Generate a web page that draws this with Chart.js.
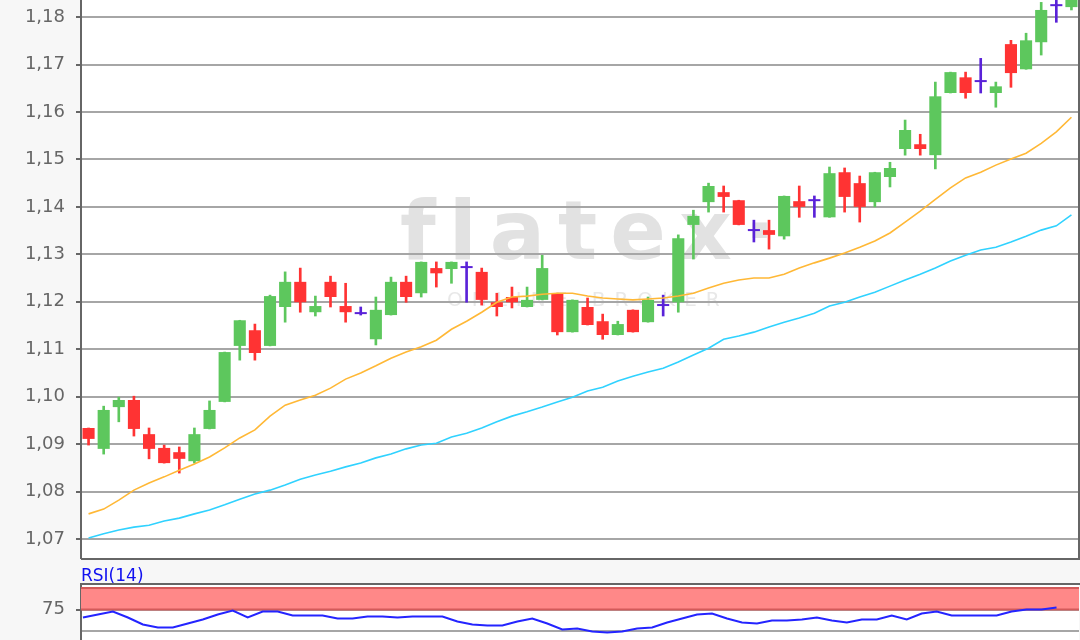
<!DOCTYPE html>
<html>
<head>
<meta charset="utf-8">
<script src="https://cdn.jsdelivr.net/npm/chart.js@4.4.1/dist/chart.umd.min.js"></script>
<style>
  html, body { margin: 0; padding: 0; background: #f7f7f7; }
  #main { position: absolute; left: 0; top: 0; width: 1080px; height: 560px; }
  #rsiBox { position: absolute; left: 0; top: 560px; width: 1080px; height: 80px; overflow: hidden; }
</style>
</head>
<body>
<div id="main"><canvas id="kurs" width="1080" height="560"></canvas></div>
<div id="rsiBox"><canvas id="rsi" width="1080" height="116"></canvas></div>
<script>
// Tageskerzen (Eröffnung, Hoch, Tief, Schluss)
const open  = [1.0934,1.0890,1.0978,1.0993,1.0921,1.0892,1.0883,1.0864,1.0932,1.0989,
               1.1107,1.1140,1.1107,1.1189,1.1242,1.1178,1.1242,1.1191,1.1174,1.1121,
               1.1172,1.1242,1.1218,1.1271,1.1269,1.1271,1.1263,1.1199,1.1210,1.1189,
               1.1204,1.1218,1.1136,1.1189,1.1159,1.1130,1.1183,1.1157,1.1191,1.1199,
               1.1362,1.1410,1.1431,1.1414,1.1349,1.1351,1.1338,1.1412,1.1412,1.1378,
               1.1473,1.1450,1.1410,1.1463,1.1522,1.1532,1.1509,1.1640,1.1673,1.1663,
               1.1640,1.1743,1.1690,1.1747,1.1823,1.1821];
const high  = [1.0934,1.0980,1.0999,1.1001,1.0934,1.0898,1.0894,1.0934,1.0991,1.1094,
               1.1161,1.1153,1.1214,1.1263,1.1271,1.1212,1.1254,1.1239,1.1189,1.1210,
               1.1252,1.1254,1.1284,1.1284,1.1284,1.1284,1.1271,1.1218,1.1231,1.1231,
               1.1298,1.1218,1.1204,1.1208,1.1174,1.1159,1.1183,1.1210,1.1214,1.1341,
               1.1393,1.1450,1.1444,1.1414,1.1372,1.1372,1.1423,1.1444,1.1423,1.1484,
               1.1482,1.1465,1.1473,1.1494,1.1583,1.1553,1.1663,1.1684,1.1684,1.1713,
               1.1663,1.1751,1.1766,1.1831,1.1845,1.1870];
const low   = [1.0898,1.0879,1.0947,1.0917,1.0869,1.0860,1.0839,1.0860,1.0932,1.0989,
               1.1077,1.1077,1.1107,1.1157,1.1178,1.1170,1.1189,1.1157,1.1172,1.1109,
               1.1172,1.1199,1.1210,1.1231,1.1239,1.1199,1.1193,1.1170,1.1187,1.1189,
               1.1204,1.1130,1.1136,1.1151,1.1121,1.1130,1.1136,1.1157,1.1170,1.1178,
               1.1290,1.1389,1.1389,1.1362,1.1326,1.1311,1.1332,1.1378,1.1378,1.1378,
               1.1389,1.1368,1.1400,1.1442,1.1509,1.1509,1.1480,1.1640,1.1629,1.1640,
               1.1610,1.1652,1.1690,1.1720,1.1789,1.1815];
const close = [1.0911,1.0972,1.0993,1.0932,1.0890,1.0860,1.0869,1.0921,1.0972,1.1094,
               1.1161,1.1092,1.1212,1.1242,1.1199,1.1191,1.1210,1.1178,1.1174,1.1183,
               1.1242,1.1210,1.1284,1.1260,1.1284,1.1271,1.1204,1.1189,1.1199,1.1204,
               1.1271,1.1136,1.1204,1.1151,1.1130,1.1153,1.1136,1.1204,1.1191,1.1334,
               1.1381,1.1444,1.1421,1.1362,1.1349,1.1341,1.1423,1.1400,1.1412,1.1471,
               1.1421,1.1400,1.1473,1.1482,1.1562,1.1522,1.1633,1.1684,1.1640,1.1663,
               1.1654,1.1682,1.1751,1.1815,1.1823,1.1860];

// gleitende Durchschnitte
const maKurz = [1.0753,1.0763,1.0782,1.0803,1.0818,1.0831,1.0845,1.0858,1.0873,1.0892,
                1.0913,1.0930,1.0959,1.0982,1.0993,1.1003,1.1018,1.1037,1.1050,1.1065,
                1.1081,1.1094,1.1105,1.1119,1.1142,1.1159,1.1178,1.1199,1.1210,1.1212,
                1.1216,1.1218,1.1218,1.1212,1.1208,1.1206,1.1204,1.1206,1.1208,1.1212,
                1.1218,1.1229,1.1239,1.1246,1.1250,1.1250,1.1258,1.1271,1.1282,1.1292,
                1.1303,1.1315,1.1328,1.1345,1.1368,1.1391,1.1416,1.1440,1.1461,1.1473,
                1.1488,1.1501,1.1513,1.1534,1.1558,1.1589];
const maLang = [1.0702,1.0711,1.0719,1.0725,1.0729,1.0738,1.0744,1.0753,1.0761,1.0772,
                1.0784,1.0795,1.0803,1.0814,1.0826,1.0835,1.0843,1.0852,1.0860,1.0871,
                1.0879,1.0890,1.0898,1.0902,1.0915,1.0923,1.0934,1.0947,1.0959,1.0968,
                1.0978,1.0989,1.0999,1.1012,1.1020,1.1033,1.1043,1.1052,1.1060,1.1073,
                1.1088,1.1102,1.1121,1.1128,1.1136,1.1147,1.1157,1.1166,1.1176,1.1191,
                1.1199,1.1210,1.1220,1.1233,1.1246,1.1258,1.1271,1.1286,1.1298,1.1309,
                1.1315,1.1326,1.1338,1.1351,1.1360,1.1383];

const rsiWerte = [65.7,69.2,72.7,65.7,57.6,54.1,54.1,58.7,63.4,69.2,
                  73.8,65.7,72.7,72.7,68.0,68.0,68.0,64.5,64.5,66.9,
                  66.9,65.7,66.9,66.9,66.9,61.0,57.6,56.4,56.4,61.0,
                  64.5,58.7,51.7,52.9,49.4,48.3,49.4,52.9,54.1,59.9,
                  64.5,69.2,70.3,64.5,59.9,58.7,62.2,62.2,63.4,65.7,
                  62.2,59.9,63.4,63.4,68.0,63.4,70.3,72.7,68.0,68.0,
                  68.0,68.0,72.7,75.0,75.0,77.3];

const kursTicks = [1.07,1.08,1.09,1.10,1.11,1.12,1.13,1.14,1.15,1.16,1.17,1.18];
const rsiTicks = [50, 75];
const rsiZone = [75, 100];

const labels = open.map((_, i) => String(i + 1));

const getCandleColor = (o, c) => {
    if (c > o) return '#5dc75d';
    if (c < o) return '#ff3333';
    return '#5a22d8';
};
const candleColors = open.map((o, i) => getCandleColor(o, close[i]));

const schrift = '"DejaVu Sans", Verdana, sans-serif';

const hintergrund = {
    id: 'hintergrund',
    beforeDraw(chart) {
        const { ctx, chartArea: a } = chart;
        ctx.save();
        ctx.fillStyle = '#f7f7f7';
        ctx.fillRect(0, 0, chart.width, chart.height);
        ctx.fillStyle = '#ffffff';
        ctx.fillRect(a.left, a.top, a.right - a.left, a.bottom - a.top);
        if (chart.canvas.id === 'kurs') {
            // Wasserzeichen
            ctx.fillStyle = '#e2e2e2';
            ctx.font = 'bold 82px ' + schrift;
            ctx.letterSpacing = '13px';
            ctx.fillText('flatex', 400, 259);
            ctx.fillText('·', 744, 259);
            ctx.fillStyle = '#e8e8e8';
            ctx.font = '20px ' + schrift;
            ctx.letterSpacing = '9px';
            ctx.fillText('ONLINE BROKER', 447, 306);
        }
        ctx.restore();
    }
};

const rahmen = {
    id: 'rahmen',
    afterDraw(chart) {
        const { ctx, chartArea: a } = chart;
        ctx.save();
        ctx.strokeStyle = '#666666';
        ctx.lineWidth = 2;
        ctx.beginPath();
        if (chart.canvas.id === 'kurs') {
            ctx.moveTo(a.left, a.bottom + 1);
            ctx.lineTo(a.right, a.bottom + 1);
            ctx.lineTo(a.right, a.top);
        } else {
            ctx.moveTo(a.left - 1, a.top - 1);
            ctx.lineTo(chart.width, a.top - 1);
        }
        ctx.stroke();
        if (chart.canvas.id === 'rsi') {
            ctx.fillStyle = '#1010f0';
            ctx.font = '17px ' + schrift;
            ctx.fillText('RSI(14)', 81, 21);
        }
        ctx.restore();
    }
};

const zone = {
    id: 'zone',
    beforeDatasetsDraw(chart) {
        const { ctx, chartArea: a } = chart;
        const y = chart.scales.y;
        const y1 = y.getPixelForValue(rsiZone[1]);
        const y0 = y.getPixelForValue(rsiZone[0]);
        ctx.save();
        ctx.fillStyle = '#ff8888';
        ctx.fillRect(a.left, y1, a.right - a.left, y0 - y1);
        ctx.strokeStyle = '#d35a5a';
        ctx.lineWidth = 2;
        ctx.beginPath();
        ctx.moveTo(a.left, y1); ctx.lineTo(a.right, y1);
        ctx.moveTo(a.left, y0); ctx.lineTo(a.right, y0);
        ctx.stroke();
        ctx.restore();
    }
};

const festeBreite = scale => {
    scale.width = 81;
    scale.paddingTop = 0;
    scale.paddingBottom = 0;
};

new Chart(document.getElementById('kurs'), {
    type: 'bar',
    data: {
        labels: labels,
        datasets: [
            { type: 'line', data: maKurz, borderColor: '#ffb836', borderWidth: 1.6, pointRadius: 0, tension: 0 },
            { type: 'line', data: maLang, borderColor: '#30d2ff', borderWidth: 1.6, pointRadius: 0, tension: 0 },
            {
                data: open.map((o, i) => [o, close[i]]),
                backgroundColor: candleColors,
                barPercentage: 0.8,
                categoryPercentage: 1,
                minBarLength: 2,
                grouped: false
            },
            {
                data: low.map((l, i) => [l, high[i]]),
                backgroundColor: candleColors,
                barThickness: 2,
                grouped: false
            }
        ]
    },
    options: {
        responsive: false,
        devicePixelRatio: 1,
        animation: false,
        layout: { padding: { top: 0, right: 1, bottom: 2, left: 0 } },
        plugins: { legend: { display: false }, tooltip: { enabled: false } },
        scales: {
            x: { display: false, offset: true },
            y: {
                min: 1.066,
                max: 1.1836,
                afterBuildTicks: scale => { scale.ticks = kursTicks.map(v => ({ value: v })); },
                afterFit: festeBreite,
                ticks: {
                    color: '#666666',
                    font: { family: schrift, size: 18 },
                    padding: 11,
                    callback: v => v.toFixed(2).replace('.', ',')
                },
                grid: { color: '#a6a6a6', lineWidth: 2, tickLength: 5, tickColor: '#666666' },
                border: { color: '#666666', width: 2 }
            }
        }
    },
    plugins: [hintergrund, rahmen]
});

new Chart(document.getElementById('rsi'), {
    type: 'line',
    data: {
        datasets: [{
            data: rsiWerte.map((v, i) => ({ x: i, y: v })),
            borderColor: '#2424ff',
            borderWidth: 2,
            pointRadius: 0,
            tension: 0
        }]
    },
    options: {
        responsive: false,
        devicePixelRatio: 1,
        animation: false,
        layout: { padding: { top: 25, right: 1, bottom: 2, left: 0 } },
        plugins: { legend: { display: false }, tooltip: { enabled: false } },
        scales: {
            x: { type: 'linear', display: false, min: -0.13, max: 66.5 },
            y: {
                min: 0,
                max: 103.5,
                afterBuildTicks: scale => { scale.ticks = rsiTicks.map(v => ({ value: v })); },
                afterFit: festeBreite,
                ticks: {
                    color: '#666666',
                    font: { family: schrift, size: 18 },
                    padding: 11,
                    callback: v => (v === 75 ? '75' : '')
                },
                grid: {
                    color: '#a6a6a6',
                    lineWidth: 2,
                    tickLength: 5,
                    tickColor: c => (c.tick && c.tick.value === 75 ? '#666666' : 'rgba(0,0,0,0)')
                },
                border: { color: '#666666', width: 2 }
            }
        }
    },
    plugins: [hintergrund, zone, rahmen]
});
</script>
</body>
</html>
